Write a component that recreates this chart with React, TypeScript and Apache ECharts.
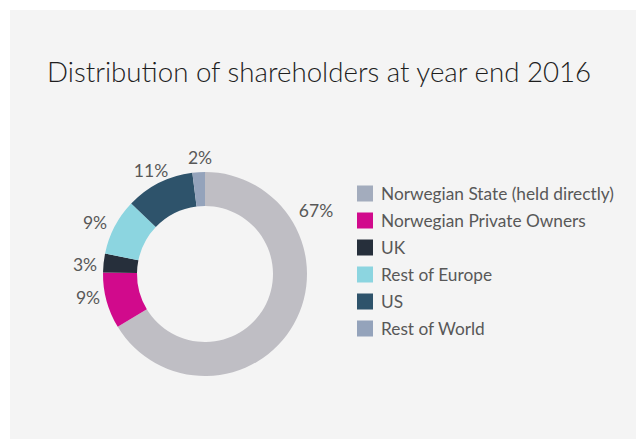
import React, { useEffect, useRef } from "react";
import * as echarts from "echarts";

const categories = [
  "Norwegian State (held directly)",
  "Norwegian Private Owners",
  "UK",
  "Rest of Europe",
  "US",
  "Rest of World",
];
const values = [67, 9, 3, 9, 11, 2];
const sliceColors = ["#bfbec4", "#d10a8c", "#262f3b", "#8cd5e0", "#2e536b", "#94a3bb"];
const legendColors = ["#a3acbd", "#d10a8c", "#262f3b", "#8cd5e0", "#2e536b", "#94a3bb"];
const title = "Distribution of shareholders at year end 2016";

// label anchor positions (centres) as in the reference layout
const labelPos: [number, number][] = [
  [316, 210],
  [88, 297],
  [85, 264],
  [95, 222],
  [151, 170],
  [200, 157],
];

const FONT = "Lato, 'Open Sans', sans-serif";

export default function App() {
  const ref = useRef<HTMLDivElement>(null);
  useEffect(() => {
    if (!ref.current) return;
    const chart = echarts.init(ref.current, undefined, { renderer: "svg" });
    chart.setOption({
      animation: false,
      backgroundColor: "#ffffff",
      graphic: [
        {
          type: "rect",
          z: -10,
          shape: { x: 10, y: 10, width: 626, height: 429 },
          style: { fill: "#f4f4f4" },
        },
      ],
      title: {
        text: title,
        left: 42,
        top: 52,
        textStyle: { fontFamily: FONT, fontSize: 27.7, fontWeight: 300, color: "#1e1e1e" },
      },
      legend: {
        orient: "vertical",
        left: 357,
        top: 185,
        padding: 0,
        itemWidth: 16,
        itemHeight: 16,
        itemGap: 10,
        icon: "rect",
        textStyle: {
          fontFamily: FONT,
          fontSize: 17.3,
          lineHeight: 16,
          fontWeight: "normal",
          color: "#585858",
          padding: [0, 0, 0, 3],
        },
        data: categories.map((c, i) => ({ name: c, itemStyle: { color: legendColors[i] } })),
      },
      series: [
        {
          type: "pie",
          center: [205, 274],
          radius: [68, 102],
          startAngle: 90,
          clockwise: true,
          label: {
            show: true,
            position: "outside",
            formatter: "{c}%",
            fontFamily: FONT,
            fontSize: 17.5,
            fontWeight: "normal",
            color: "#585858",
          },
          labelLine: { show: false, length: 6, length2: 0 },
          labelLayout: (params: any) => {
            const p = labelPos[params.dataIndex];
            return { x: p[0], y: p[1], align: "center", verticalAlign: "middle" };
          },
          emphasis: { disabled: true },
          data: categories.map((c, i) => ({
            name: c,
            value: values[i],
            itemStyle: { color: sliceColors[i] },
          })),
        },
      ],
    });
    return () => chart.dispose();
  }, []);
  return (
    <div style={{ position: "fixed", left: 0, top: 0, width: 638, height: 439 }}>
      <div ref={ref} style={{ width: 638, height: 439 }} />
    </div>
  );
}
